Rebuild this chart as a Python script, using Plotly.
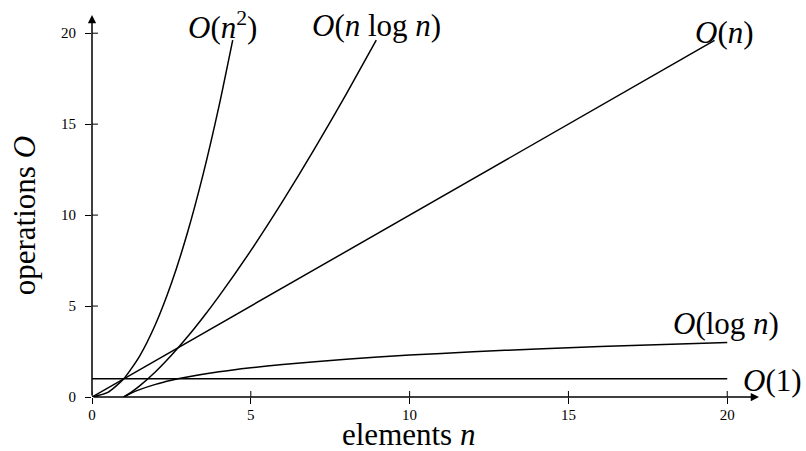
import plotly.graph_objects as go

# Sampled growth curves: operations O versus number of elements n
const_n = [0, 20]
const_ops = [1, 1]

log_n = [1, 1.25, 1.5, 2, 2.5, 3, 4, 5, 6, 8, 10, 12, 14, 16, 18, 20]
log_ops = [0, 0.223, 0.405, 0.693, 0.916, 1.099, 1.386, 1.609, 1.792, 2.079,
           2.303, 2.485, 2.639, 2.773, 2.890, 2.996]

lin_n = [0, 19.6]
lin_ops = [0, 19.6]

nlog_n = [1, 1.25, 1.5, 2, 2.5, 3, 3.5, 4, 5, 6, 7, 8, 8.95]
nlog_ops = [0, 0.279, 0.608, 1.386, 2.291, 3.296, 4.385, 5.545, 8.047, 10.751,
            13.621, 16.636, 19.616]

sq_n = [0, 0.5, 1, 1.5, 2, 2.5, 3, 3.5, 4, 4.43]
sq_ops = [0, 0.25, 1, 2.25, 4, 6.25, 9, 12.25, 16, 19.62]

tick_vals = [0, 5, 10, 15, 20]
tick_text = ["0", "5", "10", "15", "20"]

FONT = "Liberation Serif"
LINE = dict(color="black", width=1.5)

fig = go.Figure()
for xs, ys, name in [(const_n, const_ops, "O(1)"),
                     (log_n, log_ops, "O(log n)"),
                     (lin_n, lin_ops, "O(n)"),
                     (nlog_n, nlog_ops, "O(n log n)"),
                     (sq_n, sq_ops, "O(n^2)")]:
    fig.add_trace(go.Scatter(x=xs, y=ys, mode="lines", name=name,
                             line=dict(shape="spline", smoothing=0.6, **LINE),
                             hoverinfo="skip", showlegend=False, cliponaxis=False))

# axes with arrow tips
for tip in [(21, 0), (0, 21)]:
    fig.add_annotation(x=tip[0], y=tip[1], ax=0, ay=0, xref="x", yref="y",
                       axref="x", ayref="y", showarrow=True, arrowhead=2,
                       arrowsize=1.1, arrowwidth=1.5, arrowcolor="black", text="")

# inner halves of the crossing tick marks
for v in tick_vals:
    fig.add_shape(type="line", xref="x", yref="y", x0=v, x1=v, y0=0, y1=6,
                  ysizemode="pixel", yanchor=0, line=dict(color="black", width=1))
    fig.add_shape(type="line", xref="x", yref="y", y0=v, y1=v, x0=0, x1=6,
                  xsizemode="pixel", xanchor=0, line=dict(color="black", width=1))

# curve labels (paper coordinates so labels beyond the axis range still show)
labels = [
    (0.195, 0.972, "<i>O</i>(<i>n</i><sup>2</sup>)"),
    (0.427, 0.972, "<i>O</i>(<i>n</i> log <i>n</i>)"),
    (0.949, 0.953, "<i>O</i>(<i>n</i>)"),
    (0.950, 0.193, "<i>O</i>(log <i>n</i>)"),
    (1.020, 0.042, "<i>O</i>(1)"),
]
for x, y, t in labels:
    fig.add_annotation(x=x, y=y, xref="paper", yref="paper", text=t, showarrow=False,
                       xanchor="center", yanchor="middle",
                       font=dict(family=FONT, size=31, color="black"))

# axis titles
fig.add_annotation(x=0.474, y=-0.099, xref="paper", yref="paper",
                   text="elements <i>n</i>", showarrow=False,
                   xanchor="center", yanchor="middle",
                   font=dict(family=FONT, size=31, color="black"))
fig.add_annotation(x=-0.100, y=0.474, xref="paper", yref="paper",
                   text="operations <i>O</i>", showarrow=False, textangle=-90,
                   xanchor="center", yanchor="middle",
                   font=dict(family=FONT, size=31, color="black"))

axis_common = dict(showgrid=False, zeroline=False, showline=False,
                   ticks="outside", ticklen=6, tickwidth=1, tickcolor="black",
                   tickvals=tick_vals, ticktext=tick_text,
                   tickfont=dict(family=FONT, size=15, color="black"),
                   range=[0, 21], fixedrange=True)

fig.update_layout(
    width=806, height=451,
    margin=dict(l=92, r=47, t=15, b=54),
    paper_bgcolor="white", plot_bgcolor="white",
    xaxis=dict(**axis_common, ticklabelstandoff=-2),
    yaxis=dict(**axis_common, ticklabelstandoff=6),
)

fig.write_html("out.html", config={"displayModeBar": False})
